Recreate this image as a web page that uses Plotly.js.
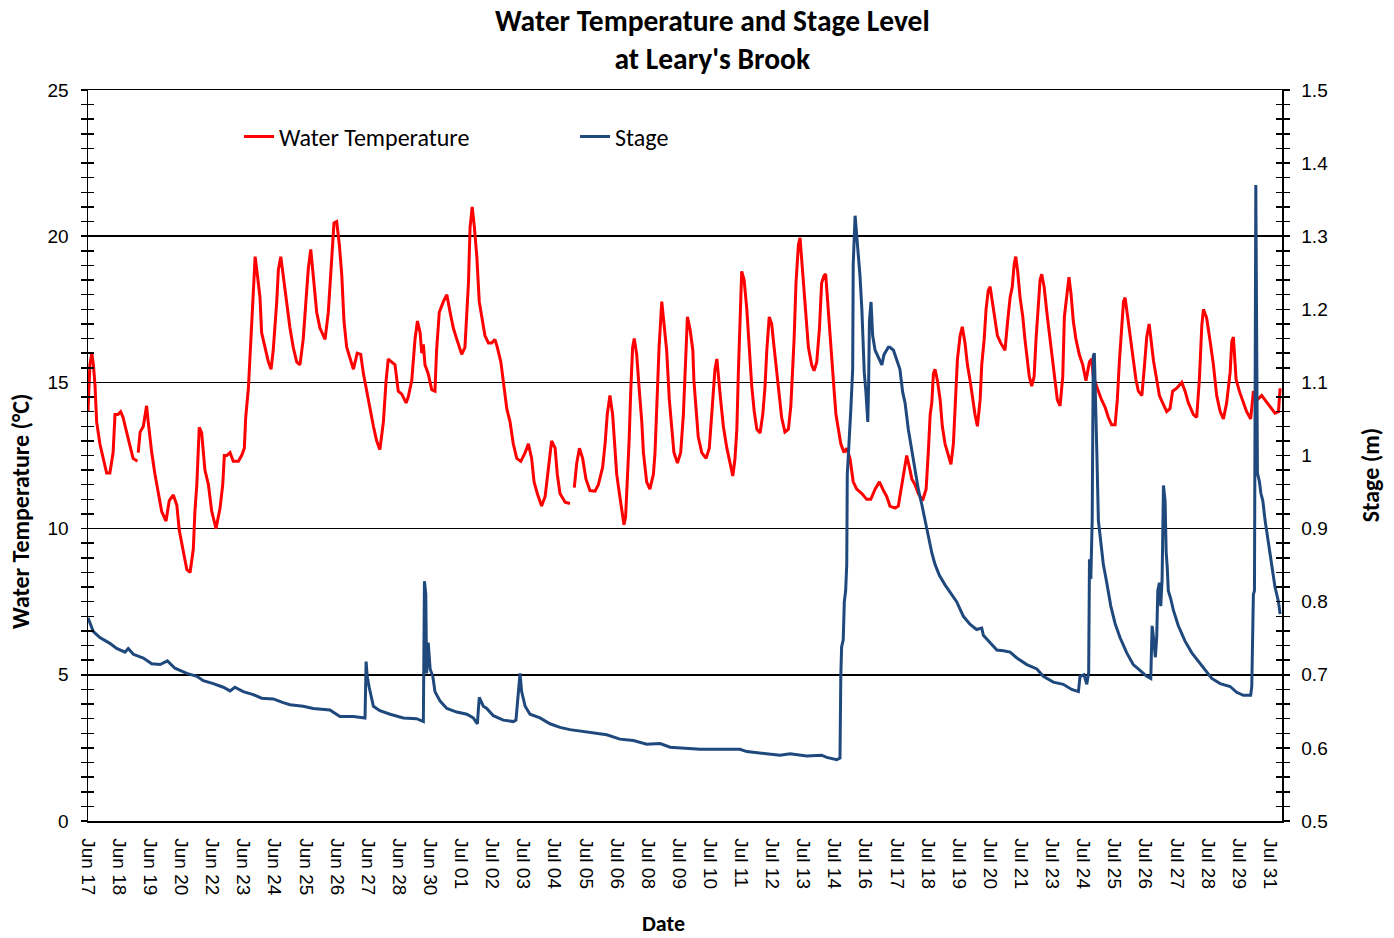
<!DOCTYPE html>
<html>
<head>
<meta charset="utf-8">
<script src="https://cdn.plot.ly/plotly-3.0.1.min.js"></script>
<style>html,body{margin:0;padding:0;background:#fff;}#chart{width:1394px;height:938px;}</style>
</head>
<body>
<div id="chart"></div>
<script>
// X values are days since the start of the record (Jun 17)
const xTickLabels = ["Jun 17","Jun 18","Jun 19","Jun 20","Jun 22","Jun 23","Jun 24","Jun 25","Jun 26","Jun 27","Jun 28","Jun 30",
  "Jul 01","Jul 02","Jul 03","Jul 04","Jul 05","Jul 06","Jul 08","Jul 09","Jul 10","Jul 11","Jul 12","Jul 13","Jul 14",
  "Jul 16","Jul 17","Jul 18","Jul 19","Jul 20","Jul 21","Jul 23","Jul 24","Jul 25","Jul 26","Jul 27","Jul 28","Jul 29","Jul 31"];

const tempDay = [
  0,0.07,0.14,0.2,0.26,0.32,0.44,0.56,0.69,0.81,
  0.93,1.0,1.11,1.21,1.3,1.43,1.56,1.67,1.83,1.845,
  1.86,1.93,2.05,2.17,2.23,2.36,2.48,2.6,2.73,2.89,
  3.01,3.16,3.29,3.38,3.53,3.66,3.78,3.9,3.96,4.03,
  4.12,4.21,4.33,4.46,4.58,4.74,4.89,4.99,5.05,5.14,
  5.26,5.38,5.57,5.69,5.79,5.84,5.94,6.0,6.06,6.12,
  6.19,6.27,6.37,6.43,6.56,6.68,6.78,6.86,6.99,7.05,
  7.14,7.23,7.36,7.48,7.6,7.73,7.85,7.97,8.07,8.16,
  8.25,8.34,8.47,8.59,8.78,8.9,9.03,9.11,9.21,9.31,
  9.4,9.48,9.58,9.7,9.83,9.97,10.1,10.2,10.32,10.44,
  10.57,10.69,10.81,10.94,11.04,11.12,11.25,11.37,11.49,11.62,
  11.78,11.86,11.99,12.11,12.2,12.3,12.36,12.42,12.48,12.6,
  12.73,12.85,12.91,13.01,13.16,13.29,13.41,13.53,13.66,13.84,
  13.96,14.09,14.15,14.23,14.31,14.4,14.49,14.58,14.7,14.83,
  14.95,15.07,15.16,15.29,15.41,15.51,15.63,15.75,15.88,16.03,
  16.19,16.31,16.43,16.52,16.64,16.8,16.93,17.03,17.11,17.17,
  17.3,17.38,17.48,17.67,17.85,17.93,18.01,18.1,18.2,18.32,
  18.44,18.59,18.78,18.9,19.06,19.15,19.23,19.33,19.43,19.49,
  19.58,19.68,19.77,19.85,19.91,19.97,20.04,20.1,20.17,20.23,
  20.32,20.42,20.51,20.57,20.69,20.81,20.94,21.0,21.06,21.15,
  21.25,21.33,21.43,21.53,21.62,21.7,21.83,21.95,22.05,22.11,
  22.2,22.3,22.4,22.44,22.52,22.6,22.73,22.89,23.01,23.1,
  23.16,23.22,23.29,23.34,23.43,23.53,23.66,23.78,23.88,23.96,
  24.03,24.09,24.15,24.21,24.3,24.4,24.49,24.58,24.67,24.77,
  24.89,24.99,25.07,25.14,25.23,25.32,25.41,25.51,25.6,25.69,
  25.81,25.94,26.03,26.09,26.15,26.22,26.31,26.37,26.43,26.52,
  26.59,26.68,26.8,26.89,26.99,27.09,27.17,27.26,27.32,27.4,
  27.48,27.57,27.63,27.7,27.79,27.88,28.0,28.1,28.22,28.34,
  28.47,28.66,28.84,28.99,29.15,29.31,29.46,29.58,29.7,29.89,
  30.01,30.14,30.22,30.32,30.42,30.51,30.63,30.75,30.91,31.04,
  31.12,31.19,31.25,31.31,31.37,31.46,31.56,31.64,31.74,31.86,
  31.96,32.05,32.11,32.2,32.3,32.38,32.48,32.57,32.67,32.77,
  32.85,32.94,33.04,33.1,33.19,33.26,33.34,33.41,33.51,33.59,
  33.68,33.8,33.96,34.06,34.15,34.23,34.3,34.36,34.43,34.52,
  34.62,34.7,34.79,34.86,34.95,35.04,35.11,35.2,35.26,35.32,
  35.41,35.51,35.63,35.73,35.81,35.9,36.0,36.1,36.16,36.25,
  36.33,36.41,36.49,36.59,36.71,36.84,36.96,37.09,37.17,37.23,
  37.3,37.42,37.54,37.67,37.79,37.91,38.04,38.12,38.2,38.29,
  38.35,38.41,38.49,38.59,38.69,38.81,38.9,39.03,39.12,39.21,
  39.3,39.37,39.46,39.56,39.68,39.8,39.95,40.07,40.17,40.32,
  40.51,40.63,40.75,40.94,41.06,41.16,41.25,41.31,41.43,41.56,
  41.68,41.8,41.93,42.05,42.17,42.3,42.36,42.42,42.52,42.64,
  42.79,42.91,43.06,43.16,43.29,43.47,43.59,43.78,43.96,44.09,
  44.15];

const tempC = [
  14.0,15.6,16.0,15.6,14.9,13.65,12.9,12.4,11.9,11.9,
  12.6,13.9,13.9,14.0,13.8,13.3,12.75,12.4,12.3,null,
  12.6,13.3,13.5,14.2,13.65,12.6,11.86,11.2,10.58,10.26,
  10.96,11.15,10.8,9.94,9.17,8.6,8.5,9.3,10.6,11.5,
  13.46,13.27,12.0,11.5,10.6,10.0,10.7,11.5,12.5,12.5,
  12.6,12.3,12.3,12.5,12.75,13.8,14.8,15.96,17.24,18.27,
  19.3,18.7,17.9,16.7,16.2,15.7,15.45,16.1,17.76,18.85,
  19.3,18.65,17.76,16.86,16.2,15.7,15.6,16.47,17.76,18.9,
  19.55,18.65,17.4,16.86,16.47,17.4,19.3,20.45,20.5,19.7,
  18.65,17.1,16.2,15.8,15.45,16.0,15.96,15.3,14.7,14.04,
  13.5,13.0,12.7,13.65,15.06,15.8,15.7,15.6,14.7,14.6,
  14.3,14.5,15.06,16.47,17.1,16.7,16.0,16.3,15.6,15.3,
  14.75,14.7,16.1,17.4,17.76,18.0,17.4,16.86,16.47,15.96,
  16.2,18.4,20.3,21.0,20.3,19.3,17.76,17.2,16.6,16.35,
  16.35,16.47,16.2,15.7,14.9,14.1,13.65,12.9,12.4,12.3,
  12.6,12.9,12.4,11.6,11.2,10.77,11.1,11.86,12.6,13.0,
  12.75,11.86,11.2,10.9,10.86,null,11.4,12.24,12.75,12.4,
  11.7,11.3,11.28,11.5,12.1,12.9,13.9,14.55,13.9,12.9,
  11.86,11.2,10.7,10.13,10.4,11.4,13.0,14.7,16.2,16.5,
  15.96,14.7,13.65,12.6,11.6,11.35,11.86,12.6,14.04,16.2,
  17.76,17.1,16.1,14.4,13.3,12.6,12.24,12.6,13.9,15.45,
  17.24,16.8,16.1,15.06,13.9,13.14,12.6,12.4,12.75,13.9,
  14.7,15.45,15.8,15.2,14.4,13.5,12.75,12.24,11.8,12.37,
  13.4,15.45,16.86,18.8,18.5,17.5,16.2,14.9,14.04,13.4,
  13.27,13.9,14.8,16.1,17.24,17.0,16.2,15.3,14.4,13.8,
  13.3,13.4,14.2,15.2,16.47,18.4,19.7,19.94,19.2,18.27,
  17.4,16.2,15.6,15.4,15.7,16.86,18.4,18.65,18.7,17.76,
  16.7,15.6,14.75,13.9,13.4,12.9,12.6,12.75,12.4,11.6,
  11.35,11.2,11.0,11.0,11.35,11.6,11.3,11.1,10.77,10.7,
  10.77,11.5,12.0,12.5,12.1,11.7,11.5,11.2,10.96,11.35,
  12.6,13.9,14.3,15.3,15.45,15.06,14.4,13.5,12.9,12.5,
  12.2,12.9,13.9,15.8,16.6,16.9,16.35,15.6,15.06,14.4,
  13.9,13.5,14.4,15.6,16.47,17.5,18.14,18.27,17.6,17.1,
  16.6,16.35,16.1,17.1,17.9,18.27,19.04,19.3,18.8,17.9,
  17.24,16.47,15.8,15.2,14.87,15.2,16.47,17.76,18.5,18.7,
  18.27,17.4,16.47,15.7,14.94,14.4,14.2,15.2,17.24,18.0,
  18.6,18.0,17.1,16.47,15.96,15.6,15.06,15.7,15.8,15.2,
  15.0,14.7,14.4,14.15,13.8,13.55,13.55,14.4,15.75,16.95,
  17.76,17.9,17.36,16.7,15.9,15.1,14.7,14.55,15.5,16.55,
  17.0,16.4,15.75,15.2,14.55,14.3,14.0,14.1,14.7,14.8,
  15.0,14.7,14.3,13.9,13.8,15.1,16.95,17.5,17.2,16.4,
  15.6,14.55,14.0,13.75,14.3,15.35,16.4,16.55,15.1,14.7,
  14.3,14.0,13.75,14.7,14.4,14.55,14.4,14.15,13.95,14.0,
  14.8];

const stageDay = [
  0,0.2,0.44,0.81,1.06,1.37,1.49,1.68,2.05,2.36,
  2.67,2.94,3.22,3.66,4.03,4.27,4.64,5.01,5.26,5.44,
  5.75,6.12,6.43,6.86,7.23,7.48,7.97,8.34,8.96,9.33,
  9.83,10.26,10.3,10.34,10.42,10.47,10.57,10.81,11.19,11.68,
  12.17,12.42,12.46,12.51,12.54,12.6,12.67,12.77,12.85,13.04,
  13.29,13.66,14.03,14.27,14.42,14.49,14.58,14.64,14.77,15.01,
  15.38,15.75,15.85,15.94,16.0,16.06,16.19,16.37,16.74,17.11,
  17.48,17.85,18.22,18.84,19.21,19.7,20.2,20.69,21.19,21.56,
  22.05,22.67,23.41,24.15,24.4,25.14,25.63,26.0,26.62,27.17,
  27.36,27.73,27.85,27.88,27.91,27.97,28.01,28.06,28.1,28.12,
  28.19,28.25,28.32,28.34,28.41,28.47,28.53,28.59,28.66,28.69,
  28.75,28.81,28.88,28.91,28.94,29.0,29.06,29.15,29.27,29.4,
  29.48,29.64,29.7,29.83,29.95,30.07,30.17,30.26,30.38,30.51,
  30.63,30.75,30.88,31.0,31.12,31.25,31.37,31.53,31.74,31.93,
  32.17,32.42,32.67,32.91,33.1,33.16,33.41,33.66,33.9,34.15,
  34.4,34.77,35.14,35.38,35.75,36.12,36.43,36.68,36.74,36.89,
  36.99,37.06,37.09,37.14,37.19,37.23,37.27,37.32,37.36,37.42,
  37.51,37.6,37.73,37.88,38.04,38.22,38.47,38.71,38.96,39.21,
  39.36,39.41,39.46,39.53,39.58,39.62,39.68,39.73,39.78,39.83,
  39.89,39.93,39.97,40.01,40.1,40.2,40.38,40.63,40.88,41.12,
  41.37,41.62,41.93,42.3,42.54,42.79,43.06,43.1,43.16,43.2,
  43.25,43.29,43.31,43.38,43.44,43.51,43.59,43.72,43.84,43.96,
  44.09,44.15];

const stageM = [
  0.778,0.759,0.751,0.743,0.736,0.731,0.736,0.728,0.723,0.715,
  0.714,0.719,0.709,0.702,0.698,0.692,0.688,0.683,0.678,0.683,
  0.677,0.673,0.668,0.667,0.662,0.659,0.657,0.654,0.652,0.643,
  0.643,0.641,0.718,0.698,0.682,0.672,0.657,0.651,0.646,0.641,
  0.640,0.636,0.828,0.810,0.702,0.744,0.708,0.698,0.677,0.664,
  0.654,0.649,0.646,0.641,0.633,0.669,0.662,0.657,0.654,0.644,
  0.638,0.636,0.638,0.677,0.702,0.677,0.657,0.646,0.641,0.633,
  0.628,0.625,0.623,0.620,0.618,0.612,0.610,0.605,0.606,0.601,
  0.600,0.598,0.598,0.598,0.595,0.592,0.590,0.592,0.589,0.590,
  0.587,0.584,0.586,0.698,0.738,0.748,0.800,0.815,0.851,0.974,
  1.016,1.062,1.118,1.262,1.328,1.300,1.270,1.246,1.200,1.159,
  1.113,1.087,1.046,1.097,1.184,1.210,1.164,1.144,1.134,1.124,
  1.138,1.148,1.148,1.144,1.131,1.118,1.087,1.072,1.036,1.005,
  0.980,0.954,0.933,0.912,0.887,0.867,0.851,0.836,0.823,0.813,
  0.800,0.780,0.769,0.762,0.764,0.754,0.744,0.734,0.733,0.731,
  0.723,0.714,0.708,0.698,0.690,0.687,0.680,0.677,0.698,0.700,
  0.687,0.703,0.858,0.831,0.911,1.136,1.140,1.044,1.008,0.911,
  0.879,0.852,0.826,0.794,0.770,0.751,0.730,0.714,0.706,0.698,
  0.695,0.767,0.751,0.724,0.751,0.815,0.826,0.794,0.831,0.959,
  0.938,0.868,0.847,0.815,0.804,0.788,0.767,0.746,0.730,0.719,
  0.706,0.695,0.688,0.684,0.676,0.672,0.672,0.684,0.810,0.815,
  1.370,1.124,0.976,0.965,0.948,0.938,0.912,0.880,0.847,0.820,
  0.800,0.783];

const tickStep = 1.152;
const tickVals = xTickLabels.map((_, i) => i * tickStep);

const calibri = 'Calibri, Carlito, Lato, sans-serif';
const arial = 'Arial, "Liberation Sans", sans-serif';

const traces = [
  {x: tempDay, y: tempC, type: 'scatter', mode: 'lines', name: 'Water Temperature',
   line: {color: '#FF0000', width: 3}, connectgaps: false, yaxis: 'y'},
  {x: stageDay, y: stageM, type: 'scatter', mode: 'lines', name: 'Stage',
   line: {color: '#1F497D', width: 3}, yaxis: 'y2'},
  {x: [], y: [], type: 'scatter', mode: 'lines', yaxis: 'y3', showlegend: false, hoverinfo: 'skip'},
  {x: [], y: [], type: 'scatter', mode: 'lines', yaxis: 'y4', showlegend: false, hoverinfo: 'skip'}
];

const tickStyle = {ticklen: 6, tickwidth: 1.5, tickcolor: '#000'};
const axisTitleFont = {family: calibri, size: 24, color: '#000'};

const layout = {
  width: 1394, height: 938,
  paper_bgcolor: '#fff', plot_bgcolor: '#fff',
  margin: {l: 88, r: 112, t: 90, b: 117},
  showlegend: true,
  title: {
    text: '<b>Water Temperature and Stage Level</b><br><b>at Leary\'s Brook</b>',
    font: {family: calibri, size: 29.5, color: '#000'},
    xref: 'container', x: 0.511, xanchor: 'center',
    yref: 'container', y: 0.967, yanchor: 'middle'
  },
  legend: {
    orientation: 'h', x: 0.1265, y: 0.936, xanchor: 'left', yanchor: 'middle',
    font: {family: calibri, size: 24, color: '#000'},
    bgcolor: 'rgba(0,0,0,0)', entrywidth: 291, traceorder: 'normal'
  },
  annotations: [
    {text: '<b>Water Temperature (°C)</b>', xref: 'paper', yref: 'paper', x: -0.057, y: 0.424,
     textangle: -90, showarrow: false, xanchor: 'center', yanchor: 'middle', font: axisTitleFont},
    {text: '<b>Stage (m)</b>', xref: 'paper', yref: 'paper', x: 1.0737, y: 0.473,
     textangle: -90, showarrow: false, xanchor: 'center', yanchor: 'middle', font: axisTitleFont},
    {text: '<b>Date</b>', xref: 'paper', yref: 'paper', x: 0.4816, y: -0.1409,
     showarrow: false, xanchor: 'center', yanchor: 'middle', borderpad: 0,
     font: {family: calibri, size: 22, color: '#000'}}
  ],
  xaxis: {
    range: [0, 44.22], tickvals: tickVals, ticktext: xTickLabels, tickangle: 90,
    ticks: '', showgrid: false, zeroline: false,
    showline: true, mirror: true, linecolor: '#000', linewidth: 1.5,
    tickfont: {family: arial, size: 19, color: '#000'},
    ticklabelstandoff: 12
  },
  yaxis: Object.assign({
    range: [0, 25], tick0: 0, dtick: 5, ticks: 'outside',
    minor: Object.assign({dtick: 0.5, ticks: 'outside', showgrid: false}, tickStyle),
    showgrid: true, gridcolor: '#000', gridwidth: 1.5,
    showline: true, linecolor: '#000', linewidth: 1.5, zeroline: false,
    tickfont: {family: arial, size: 19, color: '#000'}, ticklabelstandoff: 8
  }, tickStyle),
  yaxis2: Object.assign({
    overlaying: 'y', side: 'right', anchor: 'x',
    range: [0.5, 1.5], tick0: 0.5, dtick: 0.1, ticks: 'outside',
    minor: Object.assign({dtick: 0.02, ticks: 'outside', showgrid: false}, tickStyle),
    showgrid: false, showline: true, linecolor: '#000', linewidth: 1.5, zeroline: false,
    tickfont: {family: arial, size: 19, color: '#000'}, ticklabelstandoff: 8
  }, tickStyle),
  yaxis3: Object.assign({
    overlaying: 'y', side: 'left', anchor: 'x',
    range: [0, 25], tick0: 0, dtick: 5, ticks: 'inside',
    minor: Object.assign({dtick: 0.5, ticks: 'inside', showgrid: false}, tickStyle),
    showgrid: false, showline: false, zeroline: false, showticklabels: false
  }, tickStyle),
  yaxis4: Object.assign({
    overlaying: 'y', side: 'right', anchor: 'x',
    range: [0.5, 1.5], tick0: 0.5, dtick: 0.1, ticks: 'inside',
    minor: Object.assign({dtick: 0.02, ticks: 'inside', showgrid: false}, tickStyle),
    showgrid: false, showline: false, zeroline: false, showticklabels: false
  }, tickStyle)
};

Plotly.newPlot('chart', traces, layout, {displayModeBar: false, staticPlot: true});
</script>
</body>
</html>
